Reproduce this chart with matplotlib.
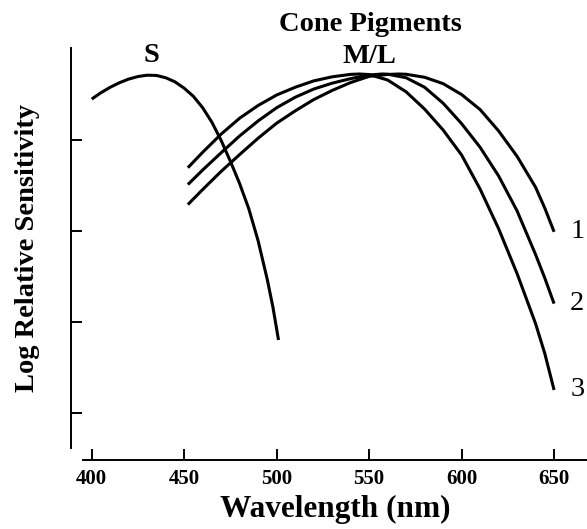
import matplotlib
matplotlib.use("Agg")
import matplotlib.pyplot as plt

plt.rcParams['font.family'] = ['Liberation Serif', 'DejaVu Serif']

# S cone pigment (wavelength nm, log relative sensitivity)
s_wl = [400, 405, 410, 415, 420, 425, 430, 435, 440, 445, 450, 455, 460, 465,
        470, 475, 480, 485, 490, 495, 498, 501]
s_val = [-0.55, -0.48, -0.42, -0.37, -0.33, -0.302, -0.287, -0.29, -0.315, -0.36,
         -0.43, -0.52, -0.645, -0.805, -1.005, -1.235, -1.48, -1.76, -2.11, -2.54,
         -2.84, -3.20]

# M/L pigment 1 (most long-wave shifted)
ml1_wl = [452, 460, 470, 480, 490, 500, 510, 520, 530, 540, 550, 560, 566, 570,
          580, 590, 600, 610, 620, 630, 640, 645, 650]
ml1_val = [-1.71, -1.545, -1.345, -1.16, -0.98, -0.815, -0.68, -0.556, -0.455,
           -0.368, -0.30, -0.279, -0.274, -0.277, -0.31, -0.38, -0.50, -0.665,
           -0.90, -1.18, -1.52, -1.75, -2.01]

# M/L pigment 2
ml2_wl = [452, 460, 470, 480, 490, 500, 510, 520, 530, 540, 550, 557, 560, 570,
          580, 590, 600, 610, 620, 630, 640, 645, 650]
ml2_val = [-1.49, -1.33, -1.14, -0.955, -0.79, -0.645, -0.53, -0.44, -0.375,
           -0.325, -0.285, -0.274, -0.276, -0.315, -0.42, -0.595, -0.82, -1.08,
           -1.395, -1.78, -2.26, -2.52, -2.80]

# M/L pigment 3 (most short-wave shifted)
ml3_wl = [452, 460, 470, 480, 490, 500, 510, 520, 530, 540, 545, 550, 560, 570,
          580, 590, 600, 610, 620, 630, 640, 645, 650]
ml3_val = [-1.305, -1.135, -0.935, -0.76, -0.62, -0.505, -0.42, -0.35, -0.305,
           -0.278, -0.274, -0.28, -0.34, -0.47, -0.66, -0.89, -1.165, -1.54,
           -1.975, -2.47, -3.02, -3.35, -3.75]

curve_labels = ['1', '2', '3']
x_ticks = [400, 450, 500, 550, 600, 650]
y_ticks = [-1, -2, -3, -4]

fig = plt.figure(figsize=(5.87, 5.29), dpi=100)
ax = fig.add_axes([83 / 587, 1 - 448 / 529, (587 - 83) / 587, 400 / 529])

lw = 2.2
for wl, val in [(s_wl, s_val), (ml1_wl, ml1_val), (ml2_wl, ml2_val), (ml3_wl, ml3_val)]:
    ax.plot(wl, val, color='black', lw=lw, solid_capstyle='butt',
            solid_joinstyle='round')

ax.set_xlim(395.3, 667.8)
ax.set_ylim(-4.388, 0.012)

for sp in ['top', 'right']:
    ax.spines[sp].set_visible(False)
for sp in ['left', 'bottom']:
    ax.spines[sp].set_position(('outward', 8.64))
    ax.spines[sp].set_linewidth(1.4)

ax.set_xticks(x_ticks)
ax.set_xticklabels([str(t) for t in x_ticks], fontsize=15, fontweight='bold')
ax.set_yticks(y_ticks)
ax.tick_params(axis='y', direction='in', length=8, width=1.4, labelleft=False)
ax.tick_params(axis='x', direction='in', length=8, width=1.4, pad=6.5)

ax.set_xlabel('Wavelength (nm)', fontsize=22.5, fontweight='bold', labelpad=4)
ax.set_ylabel('Log Relative Sensitivity', fontsize=20.5, fontweight='bold', labelpad=22)

ax.text(432.1, -0.07, 'S', fontsize=20.5, fontweight='bold', ha='center', va='center',
        clip_on=False)
ax.text(550.0, -0.08, 'M/L', fontsize=20.5, fontweight='bold', ha='center', va='center',
        clip_on=False)
ax.text(550.5, 0.27, 'Cone Pigments', fontsize=20.5, fontweight='bold', ha='center',
        va='center', clip_on=False)

ends = [ml1_val[-1], ml2_val[-1], ml3_val[-1]]
for lab, yv in zip(curve_labels, ends):
    ax.text(662.5, yv, lab, fontsize=20.5, ha='center', va='center', clip_on=False)

fig.savefig('out.png', dpi=100)
